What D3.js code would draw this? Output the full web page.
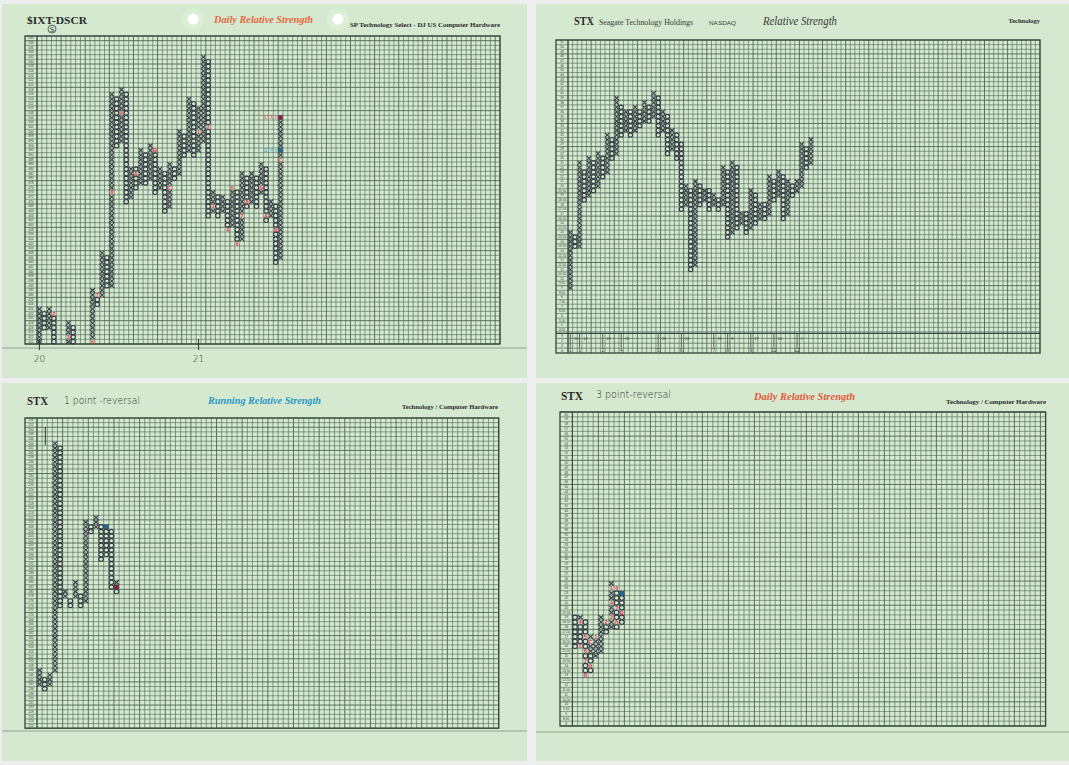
<!DOCTYPE html>
<html><head><meta charset="utf-8">
<script src="https://cdn.jsdelivr.net/npm/d3@7"></script>
<style>body{margin:0;background:#efefef}svg{display:block}</style>
</head><body>
<svg id="c" width="1069" height="765"></svg>
<script>
// ================= DATA =================
// Panel 1: $IXT-DSCR  (box-scale labels, top to bottom)
const p1Rows = "540 538 536 534 532 530 528 526 524 522 520 518 516 514 512 510 508 506 504 502 500 498 496 494 492 490 488 486 484 482 480 478 476 474 472 470 468 466 464 462 460 458 456 454 452 450 448 446 444 442 440 438 436 434 432 430 428 426 424 422 420 418 416 414 412 410".split(" ");
// columns: [column, X/O, lowest box, highest box]   (box 0 = bottom row)
const p1Columns = [[0,"X",0,7],[1,"O",3,6],[2,"X",3,7],[3,"O",0,6],[6,"X",0,4],[7,"O",0,3],
 [11,"X",0,11],[12,"O",8,10],[13,"X",10,19],[14,"O",12,18],[15,"X",12,53],[16,"O",42,52],[17,"X",43,54],
 [18,"O",30,53],[19,"X",31,37],[20,"O",33,37],[21,"X",34,41],[22,"O",34,40],[23,"X",35,42],[24,"O",32,41],
 [25,"X",33,37],[26,"O",28,36],[27,"X",29,38],[28,"O",35,37],[29,"X",36,45],[30,"O",40,44],[31,"X",41,52],
 [32,"O",40,51],[33,"X",41,50],[34,"X",43,61],[35,"O",27,60],[36,"X",28,32],[37,"O",27,31],[38,"X",28,31],
 [39,"O",24,30],[40,"X",25,33],[41,"O",21,32],[42,"X",22,36],[43,"O",29,35],[44,"X",30,36],[45,"O",29,35],
 [46,"X",32,38],[47,"O",26,37],[48,"X",27,30],[49,"O",17,29],[50,"X",18,48]];
// month markers: [column, box, month]
const p1Months = [[3,6,"2"],[6,1,"3"],[11,0,"6"],[12,10,"7"],[15,32,"8"],[17,49,"9"],[20,36,"A"],[24,41,"B"],
 [27,33,"C"],[33,45,"1"],[35,46,"2"],[36,29,"3"],[39,24,"4"],[40,33,"5"],[41,21,"6"],[42,27,"7"],[43,30,"8"],
 [46,33,"9"],[47,27,"A"],[49,24,"B"],[50,39,"C"]];
const p1RedBoxes = [[50,48,"STX"]];
const p1BlueBoxes = [[50,41,"STX"]];
const p1YearTicks = [[0,"20"],[33,"21"]];

// Panel 2: STX Relative Strength
const p2Rows = "51 50 49 48 47 46 45 44 43 42 41 40 39 38 37 36 35 34 33 32 31 30 29 28 27 26 25 24 23 22 21 20 19.50 19 18.50 18 17.50 17 16.50 16 15.50 15 14.50 14 13.50 13 12.50 12 11.50 11 10.50 10 9.50 9 8.50 8 7.50 7 6.50 6 5.50 5 4.50".split(" ");
const p2Columns = [[0,"X",9,21],[1,"O",18,20],[2,"X",18,36],[3,"O",28,34],[4,"X",29,37],[5,"O",30,36],
 [6,"X",31,38],[7,"O",33,37],[8,"X",34,42],[9,"O",37,41],[10,"X",38,50],[11,"O",42,48],[12,"X",43,47],
 [13,"O",42,47],[14,"X",43,48],[15,"O",44,47],[16,"X",45,49],[17,"O",45,48],[18,"X",46,51],[19,"O",42,50],
 [20,"X",43,47],[21,"O",38,46],[22,"X",39,43],[23,"O",37,42],[24,"O",26,40],[25,"X",27,31],[26,"O",13,30],
 [27,"X",14,32],[28,"O",27,31],[29,"X",28,30],[30,"O",26,30],[31,"X",27,29],[32,"O",26,28],[33,"X",27,35],
 [34,"O",20,34],[35,"X",21,36],[36,"O",22,35],[37,"X",23,25],[38,"O",21,25],[39,"X",22,30],[40,"O",23,29],
 [41,"X",24,27],[42,"O",24,27],[43,"X",25,33],[44,"O",28,32],[45,"X",29,34],[46,"O",24,33],[47,"X",25,32],
 [48,"O",29,31],[49,"X",30,32],[50,"X",31,40],[51,"O",35,39],[52,"X",36,41]];
const p2FootRows = ["9","1","2","0"];
// date marks under the grid: [column, day, month]
const p2DateMarks = [[0,"10","1"],[2,"12","1"],[7,"23","2"],[11,"19","4"],[19,"25","5"],[24,"22","6"],
 [31,"19","7"],[34,"8","8"],[39,"17","9"],[44,"10","11"],[49,"2","12"]];

// Panel 3: STX 1 point-reversal, Running Relative Strength
const p3Rows = "254 252 250 248 246 244 242 240 238 236 234 232 230 228 226 224 222 220 218 216 214 212 210 208 206 204 202 200 198 196 194 192 190 188 186 184 182 180 178 176 174 172 170 168 166 164 162 160 158 156 154 152 150 148 146 144 142 140 138 136 134 132 130 128 126 124 122".split(" ");
const p3Columns = [[0,"X",9,12],[1,"O",8,10],[2,"X",9,11],[3,"X",12,61],[4,"O",26,60],[5,"X",28,29],
 [6,"O",26,27],[7,"X",28,31],[8,"O",26,28],[9,"X",27,44],[10,"O",42,43],[11,"X",43,45],[12,"O",36,43],
 [13,"O",37,42],[14,"O",30,42],[15,"X",31,31],[15,"O",29,29]];
const p3BlueBoxes = [[13,43]];
const p3RedBoxes = [[15,30]];

// Panel 4: STX 3 point-reversal, Daily Relative Strength
const p4Rows = "60 59 58 57 56 55 54 53 52 51 50 49 48 47 46 45 44 43 42 41 40 39 38 37 36 35 34 33 32 31 30 29 28 27 26 25 24 23 22 21 20 19.50 19 18.50 18 17.50 17 16.50 16 15.50 15 14.50 14 13.50 13 12.50 12 11.50 11 10.50 10 9.50 9 8.50 8".split(" ");
const p4Columns = [[0,"O",16,22],[1,"X",22,22],[1,"O",16,21],[2,"O",11,21],[3,"X",15,18],[3,"O",11,14],
 [4,"X",14,18],[5,"X",15,22],[6,"O",19,21],[7,"X",20,29],[8,"O",20,28],[9,"O",21,26]];
const p4Months = [[1,21,"4"],[1,16,"3"],[2,18,"5"],[2,15,"6"],[2,13,"7"],[2,10,"8"],[3,17,"C"],[3,12,"9"],
 [4,18,"1"],[6,21,"2"],[7,28,"1"],[8,28,"4"],[7,25,"4"],[7,22,"3"],[8,24,"7"],[8,21,"A"],[9,23,"B"]];
const p4BlueBoxes = [[9,27]];

// ================= DRAWING =================
const svg = d3.select("#c");
const SHEET = "#d4e9cf", GRID = "#4f6455", INK = "#363d45", RED = "#e8334f", SERIF = "Liberation Serif, serif";
svg.append("rect").attr("width",1069).attr("height",765).attr("fill","#eeeeee");

function panel(cfg, rows, columns, months, blues, reds){
  const g = svg.append("g");
  const [sx,sy,sw,sh] = cfg.sheet;
  g.append("rect").attr("x",sx).attr("y",sy).attr("width",sw).attr("height",sh).attr("fill",SHEET);
  g.append("line").attr("x1",sx).attr("x2",sx+sw).attr("y1",cfg.foot).attr("y2",cfg.foot)
    .attr("stroke","#8fa493").attr("stroke-width",1);
  const x = d3.scaleLinear().domain([0,cfg.ncols]).range([cfg.lab,cfg.x1]);
  const y = d3.scaleLinear().domain([0,rows.length]).range([cfg.y1,cfg.y0]);
  const cw = x(1)-x(0), ch = y(0)-y(1);
  const bottom = cfg.bottom || cfg.y1;
  // horizontal lines
  g.append("g").selectAll("line").data(d3.range(rows.length+1)).join("line")
    .attr("x1",cfg.x0).attr("x2",cfg.x1).attr("y1",d=>y(d)).attr("y2",d=>y(d))
    .attr("stroke",GRID).attr("stroke-width",d=>d%5===0?0.95:0.75).attr("stroke-opacity",d=>d%5===0?0.95:0.8);
  // vertical lines
  g.append("g").selectAll("line").data(d3.range(cfg.ncols+1)).join("line")
    .attr("x1",d=>x(d)).attr("x2",d=>x(d)).attr("y1",cfg.y0).attr("y2",bottom)
    .attr("stroke",GRID).attr("stroke-width",d=>d%5===0?0.95:0.75).attr("stroke-opacity",d=>d%5===0?0.95:0.8);
  // label column divider and border
  g.append("line").attr("x1",cfg.lab).attr("x2",cfg.lab).attr("y1",cfg.y0).attr("y2",bottom).attr("stroke","#33463a").attr("stroke-width",1);
  g.append("rect").attr("x",cfg.x0).attr("y",cfg.y0).attr("width",cfg.x1-cfg.x0).attr("height",bottom-cfg.y0)
    .attr("fill","none").attr("stroke","#33463a").attr("stroke-width",1.3);
  // row labels
  g.append("g").selectAll("text").data(rows).join("text")
    .attr("x",(cfg.x0+cfg.lab)/2).attr("y",(d,i)=>y(rows.length-i-0.5)).attr("dy","0.35em")
    .attr("text-anchor","middle").attr("font-family","Liberation Sans, sans-serif").attr("font-size",3.2)
    .attr("fill","#3a3a3a").text(d=>d);
  // boxes
  const mk = new Set(months.map(m=>m[0]+":"+m[1]));
  blues.forEach(b=>mk.add(b[0]+":"+b[1])); reds.forEach(b=>mk.add(b[0]+":"+b[1]));
  const boxes = [];
  columns.forEach(([c,t,lo,hi])=>{ for(let b=lo;b<=hi;b++){ if(!mk.has(c+":"+b)) boxes.push({c,t,b}); } });
  const rx = cw*0.46, ry = ch*0.46;
  const mg = g.append("g").attr("stroke",INK).attr("stroke-width",1.15).attr("fill","none");
  mg.selectAll("path").data(boxes.filter(d=>d.t==="X")).join("path")
    .attr("d",d=>{const cx=x(d.c+0.5), cy=y(d.b+0.5);
      return `M${cx-rx},${cy-ry}L${cx+rx},${cy+ry}M${cx+rx},${cy-ry}L${cx-rx},${cy+ry}`;});
  mg.selectAll("ellipse").data(boxes.filter(d=>d.t==="O")).join("ellipse")
    .attr("cx",d=>x(d.c+0.5)).attr("cy",d=>y(d.b+0.5)).attr("rx",rx).attr("ry",ry);
  // month markers
  g.append("g").selectAll("text").data(months).join("text")
    .attr("x",d=>x(d[0]+0.5)).attr("y",d=>y(d[1]+0.5)).attr("dy","0.36em").attr("text-anchor","middle")
    .attr("font-family","Liberation Sans, sans-serif").attr("font-weight","bold").attr("font-size",5.8)
    .attr("fill",RED).text(d=>d[2]);
  // coloured boxes
  const sq = (arr,fill)=> g.append("g").selectAll("rect").data(arr).join("rect")
    .attr("x",d=>x(d[0])+0.3).attr("y",d=>y(d[1]+1)+0.3).attr("width",cw-0.6).attr("height",ch-0.6)
    .attr("fill",fill).attr("stroke",INK).attr("stroke-width",0.5);
  sq(blues,"#1f6a98"); sq(reds,"#9b1b33");
  return {g,x,y,cw,ch};
}

function txt(t,x,y,o){
  const e = svg.append("text").attr("x",x).attr("y",y).text(t)
    .attr("font-family",o.f||SERIF).attr("font-size",o.s||8).attr("fill",o.c||"#2a2a2a");
  if(o.w) e.attr("font-weight",o.w);
  if(o.i) e.attr("font-style","italic");
  if(o.a) e.attr("text-anchor",o.a);
  if(o.l) e.attr("textLength",o.l).attr("lengthAdjust","spacingAndGlyphs");
  return e;
}
const HAND = "DejaVu Sans, sans-serif";

// ---------- Panel 1 ----------
const P1 = panel({sheet:[2,4,525,374],x0:25,lab:37,x1:500,ncols:96,y0:36,y1:344,foot:348},
  p1Rows,p1Columns,p1Months,p1BlueBoxes.map(d=>d.slice(0,2)),p1RedBoxes.map(d=>d.slice(0,2)));
[[p1RedBoxes,"#e0506a"],[p1BlueBoxes,"#36a9d8"]].forEach(([arr,col])=>{
  P1.g.append("g").selectAll("text").data(arr).join("text")
   .attr("x",d=>P1.x(d[0])-1).attr("y",d=>P1.y(d[1]+0.5)).attr("dy","0.36em").attr("text-anchor","end")
   .attr("font-family","Liberation Sans, sans-serif").attr("font-size",5).attr("fill",col).text(d=>d[2]+" x");
});
P1.g.append("g").selectAll("line").data(p1YearTicks).join("line")
  .attr("x1",d=>P1.x(d[0]+0.5)).attr("x2",d=>P1.x(d[0]+0.5)).attr("y1",339).attr("y2",350)
  .attr("stroke","#333").attr("stroke-width",1);
P1.g.append("g").selectAll("text").data(p1YearTicks).join("text")
  .attr("x",d=>P1.x(d[0]+0.5)).attr("y",362).attr("text-anchor","middle")
  .attr("font-family",HAND).attr("font-weight",300).attr("font-size",9).attr("fill","#333").text(d=>d[1]);
txt("$IXT-DSCR",27,24,{w:"bold",s:11,l:60});
svg.append("circle").attr("cx",52).attr("cy",29).attr("r",4).attr("fill","none").attr("stroke","#444").attr("stroke-width",0.8);
txt("S",52,31.5,{f:HAND,s:7,a:"middle",c:"#333"});
[[193,19],[338,19]].forEach(([cx,cy])=>{
  svg.append("circle").attr("cx",cx).attr("cy",cy).attr("r",11).attr("fill","#dbeed6");
  svg.append("circle").attr("cx",cx).attr("cy",cy).attr("r",5.5).attr("fill","#ffffff");
});
txt("Daily Relative Strength",214,23,{w:"bold",i:1,s:11,c:"#e4683c",l:99});
txt("SP Technology Select - DJ US Computer Hardware",350,27,{w:"bold",s:6.5,l:150});

// ---------- Panel 2 ----------
const P2 = panel({sheet:[536,4,533,374],x0:556,lab:568,x1:1040,ncols:102,y0:40,y1:332,bottom:353,foot:999},
  p2Rows,p2Columns,[],[],[]);
{
  const fy = d3.scaleLinear().domain([0,p2FootRows.length]).range([333.5,353]);
  P2.g.append("line").attr("x1",556).attr("x2",1040).attr("y1",333.5).attr("y2",333.5).attr("stroke","#33463a").attr("stroke-width",1);
  P2.g.append("g").selectAll("line").data(d3.range(1,p2FootRows.length)).join("line")
    .attr("x1",556).attr("x2",1040).attr("y1",d=>fy(d)).attr("y2",d=>fy(d)).attr("stroke",GRID).attr("stroke-width",0.7);
  P2.g.append("g").selectAll("text").data(p2FootRows).join("text")
    .attr("x",562).attr("y",(d,i)=>fy(i+0.5)).attr("dy","0.35em").attr("text-anchor","middle")
    .attr("font-family","Liberation Sans, sans-serif").attr("font-size",3.6).attr("fill","#333").text(d=>d);
  const dm = P2.g.append("g").selectAll("g").data(p2DateMarks).join("g");
  dm.append("line").attr("x1",d=>P2.x(d[0]+0.5)).attr("x2",d=>P2.x(d[0]+0.5)).attr("y1",fy(0.1)).attr("y2",fy(2.9))
    .attr("stroke","#333").attr("stroke-width",0.7);
  dm.append("text").attr("x",d=>P2.x(d[0]+1.3)).attr("y",fy(1)).attr("dy","0.35em")
    .attr("font-family","Liberation Sans, sans-serif").attr("font-size",3.8).attr("fill","#333").text(d=>d[1]);
  dm.append("text").attr("x",d=>P2.x(d[0]+0.5)).attr("y",fy(3.5)).attr("dy","0.35em").attr("text-anchor","middle")
    .attr("font-family","Liberation Sans, sans-serif").attr("font-size",4.6).attr("fill","#333").text(d=>d[2]);
}
txt("STX",574,25,{w:"bold",s:12,l:20});
txt("Seagate Technology Holdings",599,25,{s:7.5,l:94,c:"#3a3a3a"});
txt("NASDAQ",709,25,{f:"Liberation Sans, sans-serif",s:6,l:27,c:"#3a3a3a"});
txt("Relative Strength",763,25,{i:1,s:11.5,l:74,c:"#3a3a3a"});
txt("Technology",1040,23,{w:"bold",s:6.5,a:"end",c:"#2a2a2a"});

// ---------- Panel 3 ----------
const P3 = panel({sheet:[2,383,525,378],x0:25,lab:37,x1:498.7,ncols:90,y0:418,y1:728.2,foot:731},
  p3Rows,p3Columns,[],p3BlueBoxes,p3RedBoxes);
svg.append("line").attr("x1",45.3).attr("x2",45.3).attr("y1",427).attr("y2",445).attr("stroke","#222").attr("stroke-width",0.9);
txt("STX",27,405,{w:"bold",s:12,l:21});
txt("1 point -reversal",64,404,{f:HAND,w:300,s:11,l:76,c:"#2e2e2e"});
txt("Running Relative Strength",208,404,{w:"bold",i:1,s:11,c:"#2b98c8",l:113});
txt("Technology / Computer Hardware",498,409,{w:"bold",s:6.5,a:"end",l:96});

// ---------- Panel 4 ----------
const P4 = panel({sheet:[536,383,533,378],x0:560,lab:572.4,x1:1045.6,ncols:91,y0:412,y1:726,foot:732},
  p4Rows,p4Columns,p4Months,p4BlueBoxes,[]);
txt("STX",561,400,{w:"bold",s:12,l:22});
txt("3 point-reversal",596,398,{f:HAND,w:300,s:11,l:75,c:"#2e2e2e"});
txt("Daily Relative Strength",754,400,{w:"bold",i:1,s:11,c:"#e4583c",l:101});
txt("Technology / Computer Hardware",1046,404,{w:"bold",s:6.5,a:"end",l:100});
</script>
</body></html>
